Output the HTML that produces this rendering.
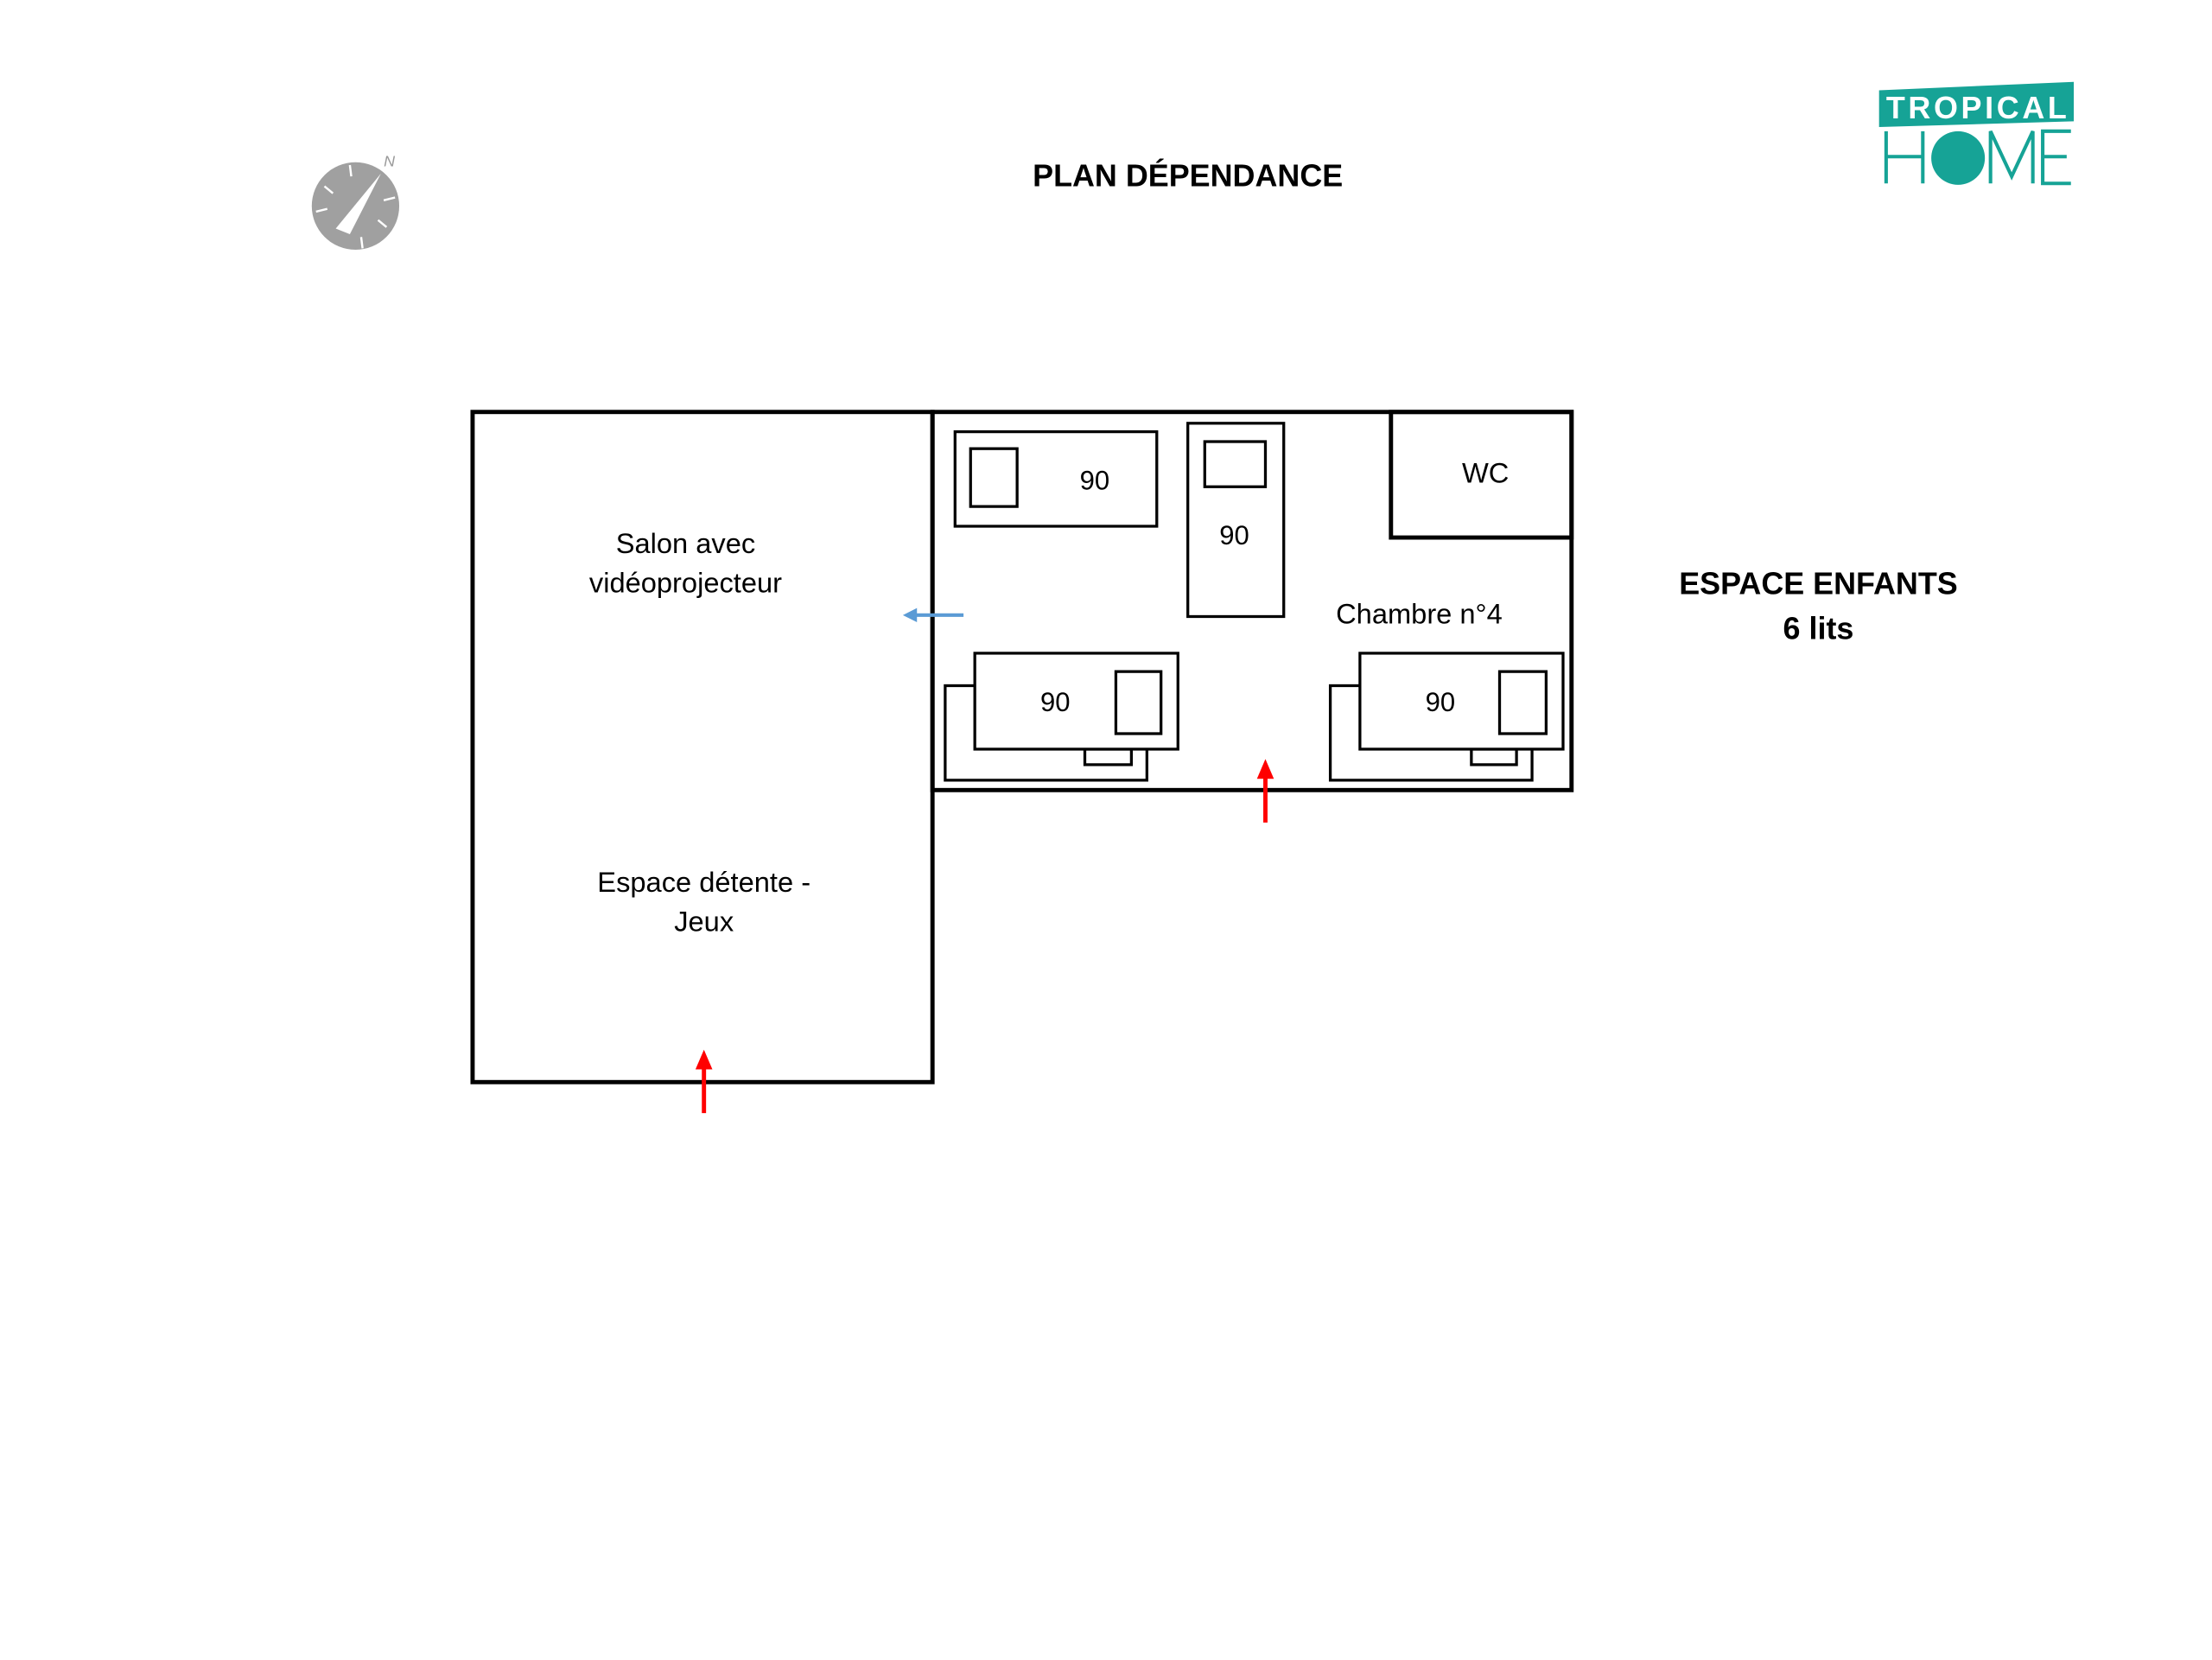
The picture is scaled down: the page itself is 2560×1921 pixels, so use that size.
<!DOCTYPE html>
<html><head><meta charset="utf-8"><style>
html,body{margin:0;padding:0;background:#fff;}
svg{display:block}
text{font-family:"Liberation Sans",sans-serif;}
</style></head><body>
<svg width="2560" height="1921" viewBox="0 0 1568 1176.6" xmlns="http://www.w3.org/2000/svg">
<rect width="1568" height="1177" fill="#fff"/>
<!-- compass -->
<circle cx="252" cy="146" r="31" fill="#a0a0a0"/>
<polygon points="238,162 270,123 248,166" fill="#fff"/>
<g stroke="#fff" stroke-width="1.5">
<line x1="230" y1="132" x2="236" y2="137"/><line x1="268" y1="156" x2="274" y2="161"/>
<line x1="224" y1="150" x2="232" y2="148"/><line x1="272" y1="142" x2="280" y2="140"/>
<line x1="248" y1="117" x2="249" y2="125"/><line x1="256" y1="168" x2="257" y2="176"/>
</g>
<text x="272" y="118" font-size="11" fill="#999" font-style="italic">N</text>
<!-- title -->
<text x="842" y="132" font-size="22" font-weight="bold" text-anchor="middle" fill="#000">PLAN DÉPENDANCE</text>
<!-- logo -->
<polygon points="1332,64 1470,58 1470,86 1332,90" fill="#16a396"/>
<text x="1401" y="84" font-size="22" font-weight="bold" fill="#fff" text-anchor="middle" textLength="128">TROPICAL</text>
<g stroke="#16a396" stroke-width="2.5" fill="none">
<line x1="1337" y1="93" x2="1337" y2="130"/><line x1="1363" y1="93" x2="1363" y2="130"/><line x1="1337" y1="111" x2="1363" y2="111"/>
<polyline points="1411,130 1411,93 1426,125 1441,93 1441,130"/>
<polyline points="1468,93 1448,93 1448,130 1468,130"/><line x1="1448" y1="111" x2="1465" y2="111"/>
</g>
<circle cx="1388" cy="112" r="19" fill="#16a396"/>
<!-- left room -->
<g fill="none" stroke="#000">
<rect x="335" y="292" width="326" height="475" stroke-width="3"/>
<rect x="661" y="292" width="453" height="268" stroke-width="3"/>
<rect x="986" y="292" width="128" height="89" stroke-width="3"/>
<g stroke-width="2">
<rect x="677" y="306" width="143" height="67"/><rect x="688" y="318" width="33" height="41"/>
<rect x="842" y="300" width="68" height="137"/><rect x="854" y="313" width="43" height="32"/>
<rect x="670" y="486" width="143" height="67" fill="#fff"/>
<rect x="769" y="531" width="33" height="11" fill="#fff"/>
<rect x="691" y="463" width="144" height="68" fill="#fff"/><rect x="791" y="476" width="32" height="44"/>
<rect x="943" y="486" width="143" height="67" fill="#fff"/>
<rect x="1043" y="531" width="32" height="11" fill="#fff"/>
<rect x="964" y="463" width="144" height="68" fill="#fff"/><rect x="1063" y="476" width="33" height="44"/>
</g>
</g>
<g font-size="19" fill="#000" text-anchor="middle">
<text x="776" y="347">90</text><text x="875" y="386">90</text>
<text x="748" y="504">90</text><text x="1021" y="504">90</text>
<text x="1053" y="342" font-size="20">WC</text>
<text x="1006" y="442" font-size="20">Chambre n°4</text>
<text x="486" y="392" font-size="20">Salon avec</text>
<text x="486" y="420" font-size="20">vidéoprojecteur</text>
<text x="499" y="632" font-size="20">Espace détente -</text>
<text x="499" y="660" font-size="20">Jeux</text>
</g>
<text x="1289" y="421" font-size="22" font-weight="bold" text-anchor="middle">ESPACE ENFANTS</text>
<text x="1289" y="453" font-size="22" font-weight="bold" text-anchor="middle">6 lits</text>
<!-- arrows -->
<line x1="648" y1="436" x2="683" y2="436" stroke="#5b9bd5" stroke-width="2.5"/>
<polygon points="640,436 650,431 650,441" fill="#5b9bd5"/>
<line x1="897" y1="550" x2="897" y2="583" stroke="#f00" stroke-width="3"/>
<polygon points="897,538 891,552 903,552" fill="#f00"/>
<line x1="499" y1="756" x2="499" y2="789" stroke="#f00" stroke-width="3"/>
<polygon points="499,744 493,758 505,758" fill="#f00"/>
</svg>
</body></html>
